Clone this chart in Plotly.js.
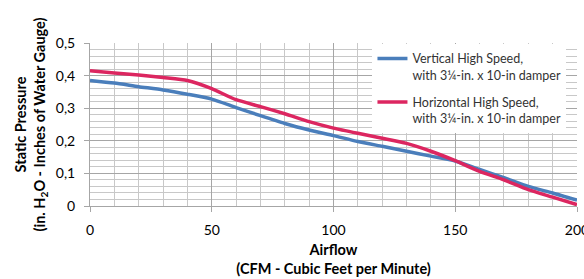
<!DOCTYPE html>
<html>
<head>
<meta charset="utf-8">
<script src="https://cdn.plot.ly/plotly-3.0.1.min.js"></script>
<style>html,body{margin:0;padding:0;background:#fff;}#chart{width:584px;height:279px;}</style>
</head>
<body>
<div id="chart"></div>
<script>
const airflow = [0,10,20,30,40,50,60,70,80,90,100,110,120,130,140,150,160,170,180,190,200];
const verticalHigh = [0.385,0.377,0.366,0.356,0.343,0.328,0.302,0.277,0.253,0.233,0.216,0.198,0.183,0.168,0.153,0.138,0.112,0.087,0.060,0.040,0.018];
const horizontalHigh = [0.415,0.408,0.402,0.394,0.385,0.360,0.326,0.305,0.283,0.259,0.239,0.223,0.208,0.192,0.168,0.139,0.106,0.080,0.050,0.027,0.004];
const seriesNames = ["Vertical High Speed,<br>with 3¼-in. x 10-in damper","Horizontal High Speed,<br>with 3¼-in. x 10-in damper"];

const font = "Lato, 'Open Sans', sans-serif";
const data = [
  {x: airflow, y: verticalHigh, name: seriesNames[0], legendgroup: 'v', mode: 'lines', line: {color: '#4A7EBB', width: 3.5, shape: 'spline', smoothing: 0.6}},
  {x: airflow, y: horizontalHigh, name: seriesNames[1], legendgroup: 'h', mode: 'lines', line: {color: '#DC2660', width: 3.5, shape: 'spline', smoothing: 0.6}}
];
const layout = {
  width: 584, height: 279,
  margin: {l: 90, r: 7, t: 43, b: 73},
  paper_bgcolor: '#fff', plot_bgcolor: '#fff',
  separators: ', ',
  font: {family: font, size: 14, color: '#000'},
  showlegend: true,
  legend: {x: 0.58, y: 0.995, xanchor: 'left', yanchor: 'top', bgcolor: '#fff', valign: 'top',
    font: {family: font, size: 12.5, color: '#333'}, tracegroupgap: 8, itemwidth: 30},
  xaxis: {range: [0, 200], dtick: 50, tick0: 0, showgrid: true, gridcolor: '#A6A6A6', gridwidth: 1,
    minor: {dtick: 10, showgrid: true, gridcolor: '#C8C8C8', gridwidth: 1},
    showline: true, linecolor: '#A6A6A6', ticks: 'outside', ticklen: 5, tickcolor: '#A6A6A6',
    ticklabelstandoff: 6, ticklabeloverflow: 'allow', zeroline: false,
    title: {text: '<b>Airflow</b><br><b>(CFM - Cubic Feet per Minute)</b>', font: {family: font, size: 14.5}, standoff: 8}},
  yaxis: {range: [0, 0.5], dtick: 0.1, tick0: 0, showgrid: true, gridcolor: '#A6A6A6', gridwidth: 1,
    minor: {dtick: 0.02, showgrid: true, gridcolor: '#C8C8C8', gridwidth: 1},
    showline: true, linecolor: '#A6A6A6', ticks: 'outside', ticklen: 5, tickcolor: '#A6A6A6',
    ticklabelstandoff: 6, zeroline: false, tickformat: '.1~f',
    title: {text: '<b>Static Pressure</b><br><b>(in. H<sub>2</sub>O - Inches of Water Gauge)</b>', font: {family: font, size: 14.5}, standoff: 6}}
};
Plotly.newPlot('chart', data, layout, {displayModeBar: false, staticPlot: true});
</script>
</body>
</html>
